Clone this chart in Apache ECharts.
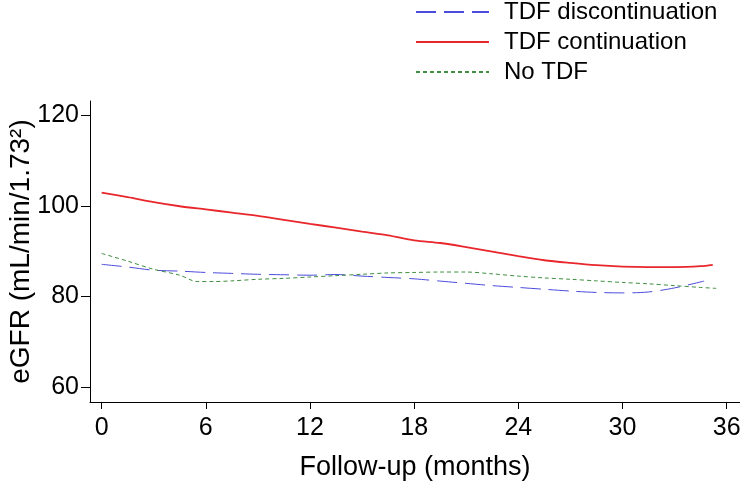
<!DOCTYPE html>
<html>
<head>
<meta charset="utf-8">
<script src="https://cdn.jsdelivr.net/npm/echarts@6/dist/echarts.min.js"></script>
<style>
html,body{margin:0;padding:0;background:#fff;}
#c{width:740px;height:486px;}
</style>
</head>
<body>
<div id="c"></div>
<script>
// Series names
const seriesNames = ['TDF discontinuation', 'TDF continuation', 'No TDF'];

// TDF discontinuation (months, eGFR)
const discMonths = [0, 1.5, 3, 4.5, 6, 7.5, 9, 10.5, 12, 13.5, 15, 16.5, 18, 19.5, 21, 22.5, 24, 25.5, 27, 28.5, 30, 31.5, 33, 34.7];
const discValues = [87.1, 86.5, 85.8, 85.6, 85.3, 85.1, 84.9, 84.8, 84.7, 84.85, 84.5, 84.2, 83.9, 83.4, 82.9, 82.4, 82.0, 81.6, 81.2, 80.9, 80.8, 81.0, 81.9, 83.4];

// TDF continuation
const contMonths = [0, 1.5, 3, 4.5, 6, 7.5, 9, 10.5, 12, 13.5, 15, 16.5, 18, 19.5, 21, 22.5, 24, 25.5, 27, 28.5, 30, 31.5, 33, 34.5, 35.2];
const contValues = [102.9, 101.9, 100.8, 99.9, 99.2, 98.5, 97.8, 96.9, 96.0, 95.2, 94.3, 93.5, 92.4, 91.8, 90.9, 89.9, 88.9, 88.0, 87.4, 86.9, 86.6, 86.5, 86.5, 86.7, 87.0];

// No TDF
const noMonths = [0, 1.5, 3, 4.5, 5.5, 6.5, 7.5, 9, 10.5, 12, 13.5, 15, 16.5, 18, 19.5, 21, 22.5, 24, 25.5, 27, 28.5, 30, 31.5, 33, 34.5, 35.4];
const noValues = [89.5, 87.8, 86.0, 84.7, 83.3, 83.3, 83.45, 83.8, 84.0, 84.3, 84.6, 84.9, 85.2, 85.3, 85.4, 85.4, 85.0, 84.5, 84.1, 83.8, 83.45, 83.1, 82.8, 82.4, 82.0, 81.8];

// Tick labels
const xTicks = [0, 6, 12, 18, 24, 30, 36];
const yTicks = [60, 80, 100, 120];

const pair = (xs, ys) => xs.map((x, i) => [x, ys[i]]);
const FONT = 'Liberation Sans, Arial, sans-serif';

const chart = echarts.init(document.getElementById('c'), null, {renderer: 'canvas'});
chart.setOption({
  animation: false,
  backgroundColor: '#fff',
  textStyle: {fontFamily: FONT},
  legend: {
    orient: 'vertical',
    left: 415,
    top: 0,
    padding: 0,
    itemWidth: 73,
    itemHeight: 20,
    itemGap: 6,
    itemStyle: {opacity: 0},
    textStyle: {fontFamily: FONT, fontSize: 24, lineHeight: 24, color: '#000', padding: [0, 0, 0, 10]},
    data: seriesNames
  },
  grid: {left: 90, right: 0, top: 101, bottom: 84, containLabel: false, outerBoundsMode: 'none'},
  xAxis: {
    type: 'value',
    min: -0.67,
    max: 36.77,
    name: 'Follow-up (months)',
    nameLocation: 'middle',
    nameGap: 52,
    nameMoveOverlap: false,
    nameTextStyle: {fontFamily: FONT, fontSize: 27, color: '#000'},
    axisLine: {show: true, onZero: false, lineStyle: {color: '#000', width: 1}},
    axisTick: {show: true, length: 7, customValues: xTicks, lineStyle: {color: '#000'}},
    axisLabel: {customValues: xTicks, fontFamily: FONT, fontSize: 25, color: '#000', margin: 14},
    splitLine: {show: false}
  },
  yAxis: {
    type: 'value',
    min: 56.75,
    max: 123.1,
    name: 'eGFR (mL/min/1.73²)',
    nameLocation: 'middle',
    nameRotate: 90,
    nameGap: 55,
    nameMoveOverlap: false,
    nameTextStyle: {fontFamily: FONT, fontSize: 28, color: '#000'},
    axisLine: {show: true, onZero: false, lineStyle: {color: '#000', width: 1}},
    axisTick: {show: true, length: 9, customValues: yTicks, lineStyle: {color: '#000'}},
    axisLabel: {customValues: yTicks, fontFamily: FONT, fontSize: 25, color: '#000', margin: 11},
    splitLine: {show: false}
  },
  series: [
    {
      name: seriesNames[0], type: 'line', data: pair(discMonths, discValues),
      symbol: 'none', smooth: 0.3, color: '#4b4bdc',
      lineStyle: {color: '#4b4bdc', width: 1, type: [20, 8]}
    },
    {
      name: seriesNames[1], type: 'line', data: pair(contMonths, contValues),
      symbol: 'none', smooth: 0.3, color: '#e8262b',
      lineStyle: {color: '#e8262b', width: 1.8, type: 'solid'}
    },
    {
      name: seriesNames[2], type: 'line', data: pair(noMonths, noValues),
      symbol: 'none', smooth: 0.3, color: '#3f8f3f',
      lineStyle: {color: '#3f8f3f', width: 1, type: [4, 3]}
    }
  ]
});
</script>
</body>
</html>
